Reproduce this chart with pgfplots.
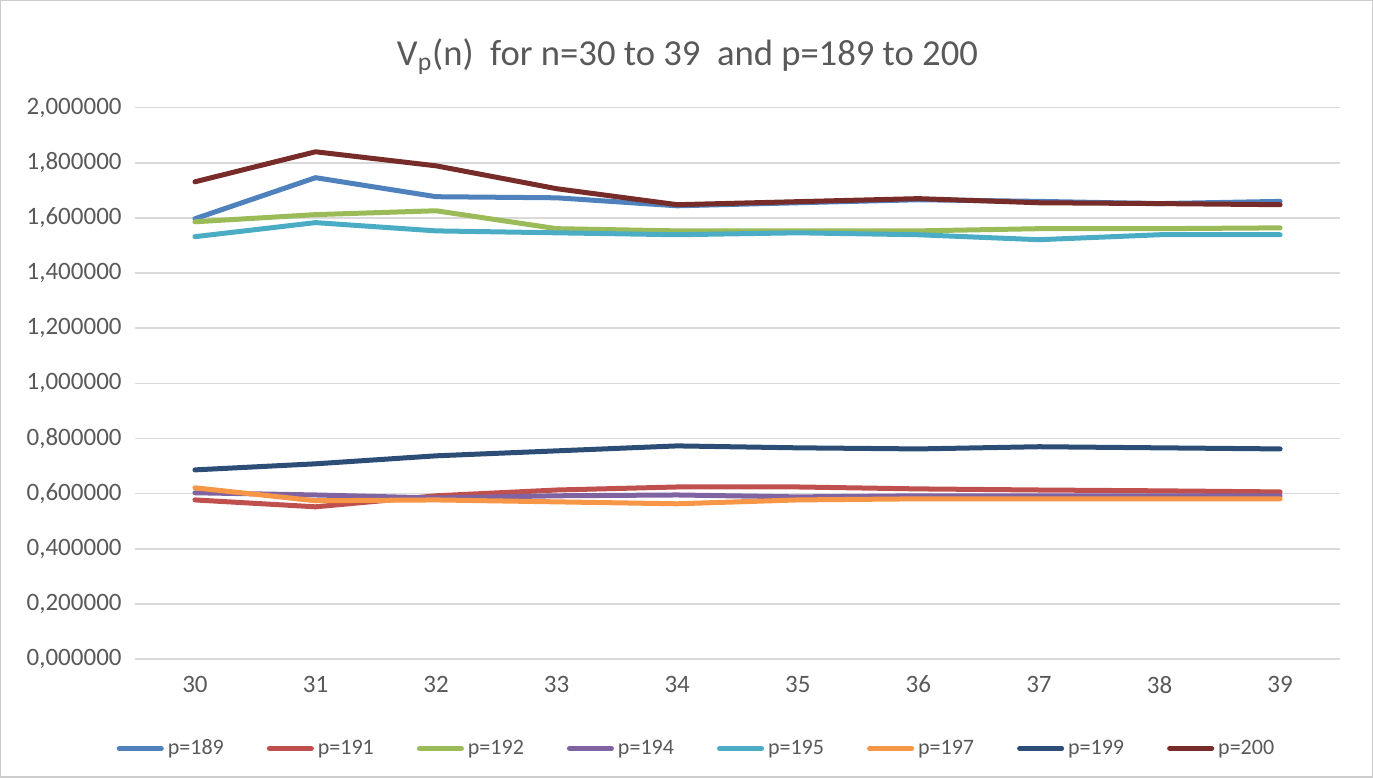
\documentclass[border=0pt]{standalone}
\usepackage{pgfplots}
\pgfplotsset{compat=1.18}
\usepackage{fontspec}
\setmainfont{Carlito}
\definecolor{cA}{HTML}{4F81BD}
\definecolor{cB}{HTML}{C0504D}
\definecolor{cC}{HTML}{9BBB59}
\definecolor{cD}{HTML}{8064A2}
\definecolor{cE}{HTML}{4BACC6}
\definecolor{cF}{HTML}{F79646}
\definecolor{cG}{HTML}{2C4D75}
\definecolor{cH}{HTML}{772C2A}
\definecolor{txt}{HTML}{595959}
\begin{document}
\begin{tikzpicture}
\begin{axis}[
  scale only axis,
  width=602.5pt, height=275.5pt,
  xmin=29.5, xmax=39.5, ymin=0, ymax=2,
  xtick={30,...,39},
  ytick={0,0.2,...,2.01},
  ymajorgrids, grid style={gray!30, line width=0.8pt},
  axis line style={draw=none},
  major tick length=0pt,
  tick label style={font=\fontsize{12.5}{14}\selectfont, text=txt},
  /pgf/number format/assume math mode=true,
  yticklabel style={/pgf/number format/.cd, fixed, fixed zerofill, precision=6, use comma},
  xticklabel style={/pgf/number format/.cd, fixed, precision=0},
  xticklabel shift=5pt,
  yticklabel shift=3pt,
  title={V\textsubscript{p}(n)\ \ for n=30 to 39\ \ and p=189 to 200},
  title style={font=\fontsize{18.3}{21}\selectfont, text=txt, at={(rel axis cs:0.5,1)}, xshift=-25pt, yshift=7pt, anchor=south},
  legend columns=8,
  legend style={draw=none, at={(rel axis cs:0.5,0)}, anchor=north, xshift=-20pt, yshift=-36pt,
    font=\fontsize{11}{13}\selectfont, text=txt,
    /tikz/every even column/.append style={column sep=19.5pt}},
  legend image code/.code={\draw[#1, line cap=round, line width=2.5pt] (0pt,0pt) -- (21pt,0pt);},
  every axis plot/.append style={line width=2.5pt, line join=round, line cap=round},
  clip=false,
]
\addplot[cA] coordinates {(30,1.597)(31,1.746)(32,1.677)(33,1.673)(34,1.644)(35,1.655)(36,1.666)(37,1.660)(38,1.652)(39,1.660)};
\addlegendentry{p=189}
\addplot[cB] coordinates {(30,0.577)(31,0.552)(32,0.592)(33,0.613)(34,0.624)(35,0.624)(36,0.617)(37,0.613)(38,0.610)(39,0.606)};
\addlegendentry{p=191}
\addplot[cC] coordinates {(30,1.586)(31,1.612)(32,1.626)(33,1.561)(34,1.553)(35,1.553)(36,1.553)(37,1.561)(38,1.561)(39,1.564)};
\addlegendentry{p=192}
\addplot[cD] coordinates {(30,0.603)(31,0.595)(32,0.584)(33,0.592)(34,0.595)(35,0.588)(36,0.592)(37,0.592)(38,0.592)(39,0.592)};
\addlegendentry{p=194}
\addplot[cE] coordinates {(30,1.532)(31,1.583)(32,1.553)(33,1.546)(34,1.539)(35,1.546)(36,1.539)(37,1.521)(38,1.539)(39,1.539)};
\addlegendentry{p=195}
\addplot[cF] coordinates {(30,0.621)(31,0.574)(32,0.577)(33,0.570)(34,0.563)(35,0.577)(36,0.581)(37,0.581)(38,0.581)(39,0.581)};
\addlegendentry{p=197}
\addplot[cG] coordinates {(30,0.686)(31,0.708)(32,0.737)(33,0.755)(34,0.773)(35,0.766)(36,0.762)(37,0.770)(38,0.766)(39,0.762)};
\addlegendentry{p=199}
\addplot[cH] coordinates {(30,1.731)(31,1.840)(32,1.789)(33,1.706)(34,1.648)(35,1.659)(36,1.670)(37,1.655)(38,1.652)(39,1.648)};
\addlegendentry{p=200}
\end{axis}
\draw[gray!40, line width=0.6pt] (-67pt,-59pt) rectangle (618.5pt,329pt);
\end{tikzpicture}
\end{document}
